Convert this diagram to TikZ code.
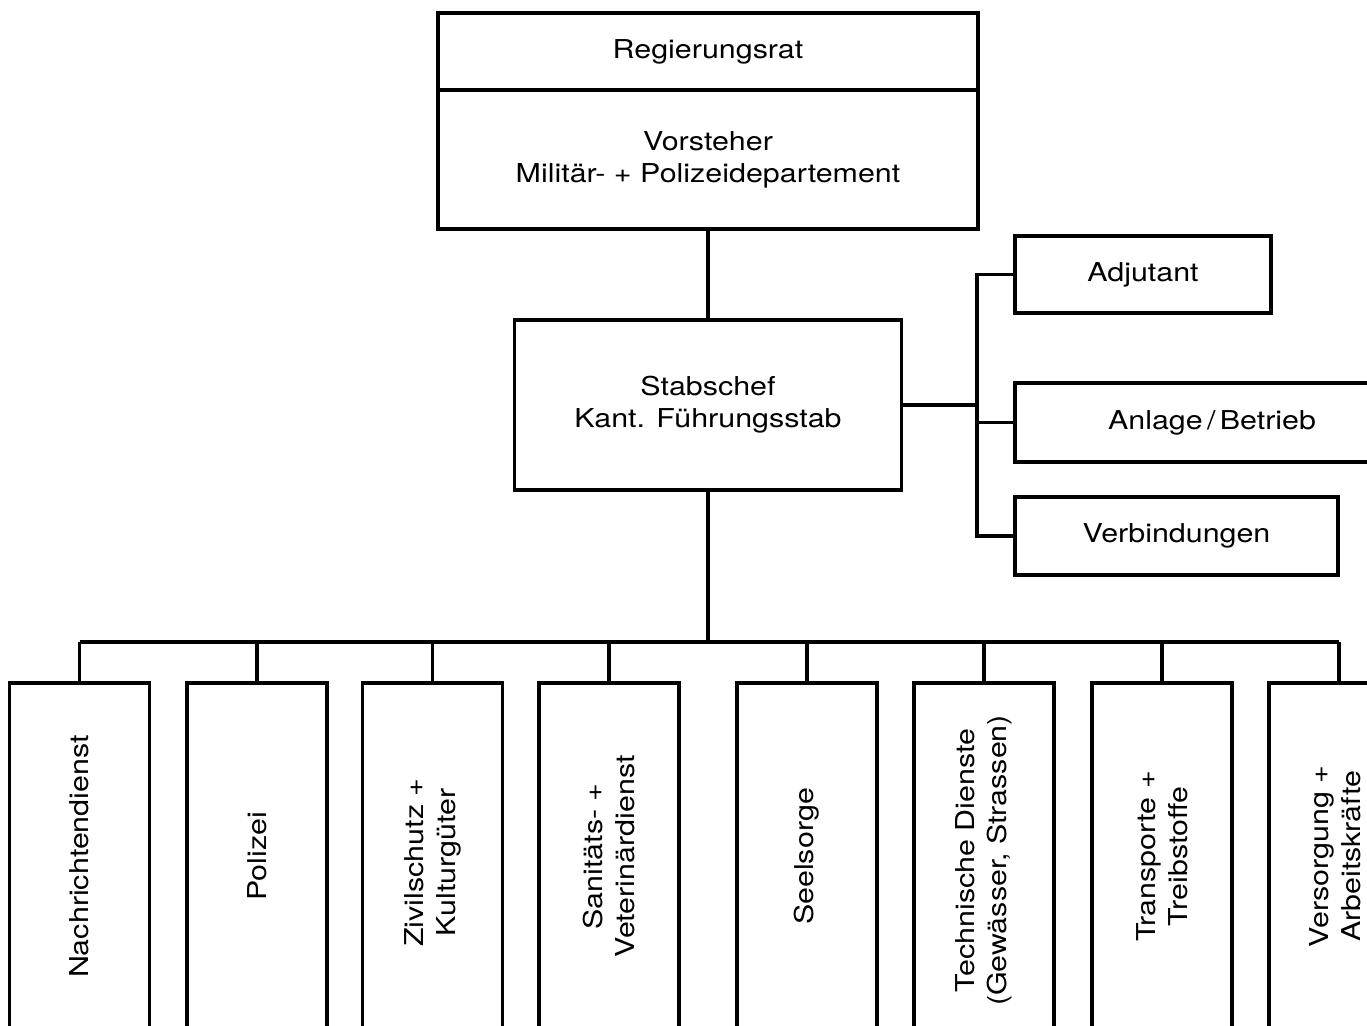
\documentclass[tikz,border=0pt]{standalone}
\usepackage{fontspec}
\setmainfont[FakeStretch=1.17]{TeX Gyre Heros}
\begin{document}
\begin{tikzpicture}[x=1pt,y=1pt,
  wire/.style={line width=3.2pt},
  box/.style={draw, line width=3.2pt, inner sep=0pt, align=center, font=\fontsize{26}{32}\selectfont},
  sub/.style={box, minimum width=140pt, minimum height=347pt},
  vtext/.style={rotate=90, align=center, inner sep=0pt, font=\fontsize{26}{32}\selectfont},
  htext/.style={align=center, inner sep=0pt, font=\fontsize{26}{32}\selectfont}]
\useasboundingbox[fill=white] (0,0) rectangle (1367,1025);
% top
\node[box, minimum width=540pt, minimum height=77pt] (reg) at (708,973.5) {Regierungsrat};
\node[box, minimum width=540pt, minimum height=139pt] (vor) at (708,865.5) {Vorsteher\\Militär- + Polizeidepartement};
\node[box, minimum width=387pt, minimum height=170pt] (stab) at (708,620) {Stabschef\\Kant. Führungsstab};
% staff side boxes
\node[box, minimum width=256pt, minimum height=77pt] (adj) at (1143,750.5) {Adjutant};
\node[box, minimum width=405pt, minimum height=79pt] (anl) at (1217.5,602.5) {};
\node[htext] (anlt) at (1212,602) {Anlage\,/\,Betrieb};
\node[box, minimum width=323pt, minimum height=78pt] (verb) at (1176.5,489) {Verbindungen};
% connectors
\coordinate (rbus) at (977,620);
\draw[wire] (vor.south) -- (stab.north);
\draw[wire] (stab.east) -- (rbus);
\draw[wire] (adj.west) -| (rbus);
\draw[wire] (verb.west) -| (rbus);
\draw[wire] (anl.west) -- (anl.west -| rbus);
% bottom row
\coordinate (bus) at (708,383);
\node[sub] (b1) at (79.5,168.5) {};
\node[sub] (b2) at (257,168.5) {};
\node[sub] (b3) at (432.5,168.5) {};
\node[sub] (b4) at (609,168.5) {};
\node[sub] (b5) at (807,168.5) {};
\node[sub] (b6) at (984,168.5) {};
\node[sub] (b7) at (1162,168.5) {};
\node[sub] (b8) at (1339,168.5) {};
\node[vtext] (t1) at (b1) {Nachrichtendienst};
\node[vtext] (t2) at (b2) {Polizei};
\node[vtext] (t3) at ([yshift=-6pt]b3) {Zivilschutz +\\Kulturgüter};
\node[vtext] (t4) at (b4) {Sanitäts- +\\Veterinärdienst};
\node[vtext] (t5) at (b5) {Seelsorge};
\node[vtext] (t6) at ([yshift=-4pt]b6) {Technische Dienste\\(Gewässer, Strassen)};
\node[vtext] (t7) at (b7) {Transporte +\\Treibstoffe};
\node[vtext] (t8) at ([xshift=-4pt]b8) {Versorgung +\\Arbeitskräfte};
\draw[wire] (stab.south) -- (bus);
\draw[wire] (b1.north |- bus) -- (b8.north |- bus);
\foreach \i in {1,...,8} {\draw[wire] (b\i.north) -- (b\i.north |- bus);}
\end{tikzpicture}
\end{document}
